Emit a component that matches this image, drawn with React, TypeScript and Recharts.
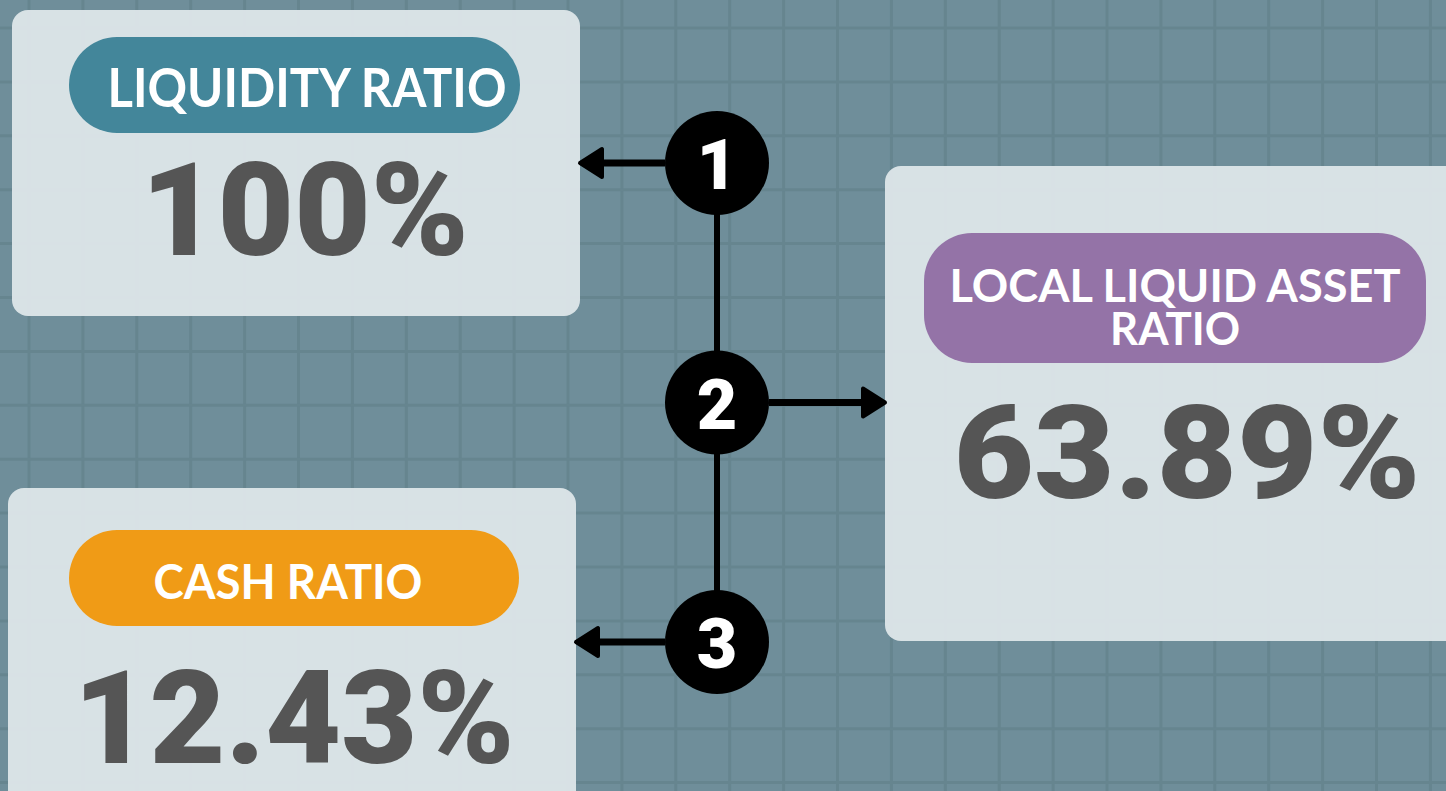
import React from 'react';
import { ComposedChart, Line, XAxis, YAxis, Customized } from 'recharts';

// ---- data ----
const metricLabels: string[][] = [['LIQUIDITY RATIO'], ['LOCAL LIQUID ASSET', 'RATIO'], ['CASH RATIO']];
const metricValues: number[] = [100, 63.89, 12.43];
const metricSteps: number[] = [1, 2, 3];
const metricColors: string[] = ['#43869a', '#9473a7', '#f09b16'];

// ---- layout (positions/sizes/styles only) ----
const W = 1446;
const H = 791;
const BG = '#6f8e9a';
const GRID = '#66858f';
const CARD = '#dde5e8';
const VALUE_COLOR = '#555555';

const cards = [
  { x: 12, y: 10, w: 568, h: 306, pill: { x: 69, y: 37, w: 451, h: 96 }, labelX: 307, labelY: [107], labelW: [399], labelSize: 54, valueX: 305, valueY: 255, valueW: 328, side: 'right' },
  { x: 885, y: 166, w: 575, h: 475, pill: { x: 924, y: 233, w: 502, h: 130 }, labelX: 1175, labelY: [302, 345], labelW: [451, 130], labelSize: 45, valueX: 1187, valueY: 498, valueW: 467, side: 'left' },
  { x: 8, y: 488, w: 568, h: 330, pill: { x: 69, y: 530, w: 450, h: 96 }, labelX: 288, labelY: [599], labelW: [269], labelSize: 47, valueX: 294, valueY: 763, valueW: 441, side: 'right' },
];

const chartData = metricSteps.map((s, i) => ({ pos: 0, step: s, value: metricValues[i] }));

const fmt = (v: number) => (Number.isInteger(v) ? `${v}%` : `${v.toFixed(2)}%`);

const Background = () => {
  const vx: number[] = [];
  for (let x = 29; x < W; x += 53.9) vx.push(x);
  const hy: number[] = [];
  for (let y = 28; y < H; y += 53.9) hy.push(y);
  return (
    <g>
      <rect x={0} y={0} width={W} height={H} fill={BG} />
      {vx.map((x, i) => (
        <line key={'v' + i} x1={x} x2={x} y1={0} y2={H} stroke={GRID} strokeWidth={3} />
      ))}
      {hy.map((y, i) => (
        <line key={'h' + i} x1={0} x2={W} y1={y} y2={y} stroke={GRID} strokeWidth={3} />
      ))}
    </g>
  );
};

const Cards = () => (
  <g>
    {cards.map((c, i) => (
      <g key={i}>
        <rect x={c.x} y={c.y} width={c.w} height={c.h} rx={16} ry={16} fill={CARD} fillOpacity={0.96} />
        <rect x={c.pill.x} y={c.pill.y} width={c.pill.w} height={c.pill.h} rx={48} ry={48} fill={metricColors[i]} />
        {metricLabels[i].map((t, j) => (
          <text
            key={j}
            x={c.labelX}
            y={c.labelY[j]}
            textAnchor="middle"
            fill="#ffffff"
            fontFamily="Lato, 'Open Sans', sans-serif"
            fontWeight={700}
            fontSize={c.labelSize}
            textLength={c.labelW[j]}
            lengthAdjust="spacingAndGlyphs"
          >
            {t}
          </text>
        ))}
        <text
          x={c.valueX}
          y={c.valueY}
          textAnchor="middle"
          fill={VALUE_COLOR}
          fontFamily="Roboto, Lato, sans-serif"
          fontWeight={900}
          fontSize={130}
          textLength={c.valueW}
          lengthAdjust="spacingAndGlyphs"
        >
          {fmt(metricValues[i])}
        </text>
      </g>
    ))}
  </g>
);

const R = 52;

const StepDot = (props: any) => {
  const { cx, cy, index } = props;
  const c = cards[index];
  const dir = c.side === 'right' ? -1 : 1; // arrow direction from circle
  const tip = c.side === 'right' ? c.x + c.w : c.x;
  const start = cx + dir * R;
  const headLen = 22;
  const headHalf = 14;
  const base = tip - dir * headLen;
  return (
    <g key={`dot-${index}`}>
      <line x1={start} y1={cy} x2={base} y2={cy} stroke="#000" strokeWidth={7} />
      <path
        d={`M ${tip} ${cy} L ${base} ${cy - headHalf} L ${base} ${cy + headHalf} Z`}
        fill="#000"
        stroke="#000"
        strokeWidth={4}
        strokeLinejoin="round"
      />
      <circle cx={cx} cy={cy} r={R} fill="#000" />
      <text
        x={cx}
        y={cy + 26}
        textAnchor="middle"
        fill="#ffffff"
        fontFamily="Roboto, Lato, sans-serif"
        fontWeight={900}
        fontSize={70}
      >
        {metricSteps[index]}
      </text>
    </g>
  );
};

export default function App() {
  return (
    <div style={{ position: 'absolute', left: 0, top: 0, width: W, height: H, overflow: 'hidden', background: BG }}>
      <ComposedChart width={W} height={H} data={chartData} margin={{ top: 0, right: 12, bottom: 0, left: 0 }}>
        <XAxis type="number" dataKey="pos" domain={[-1, 1]} hide />
        <YAxis type="number" dataKey="step" domain={[0.3194, 3.6221]} reversed hide />
        <Customized component={Background} />
        <Customized component={Cards} />
        <Line
          dataKey="step"
          stroke="#000"
          strokeWidth={6}
          dot={StepDot}
          activeDot={false}
          isAnimationActive={false}
        />
      </ComposedChart>
    </div>
  );
}
